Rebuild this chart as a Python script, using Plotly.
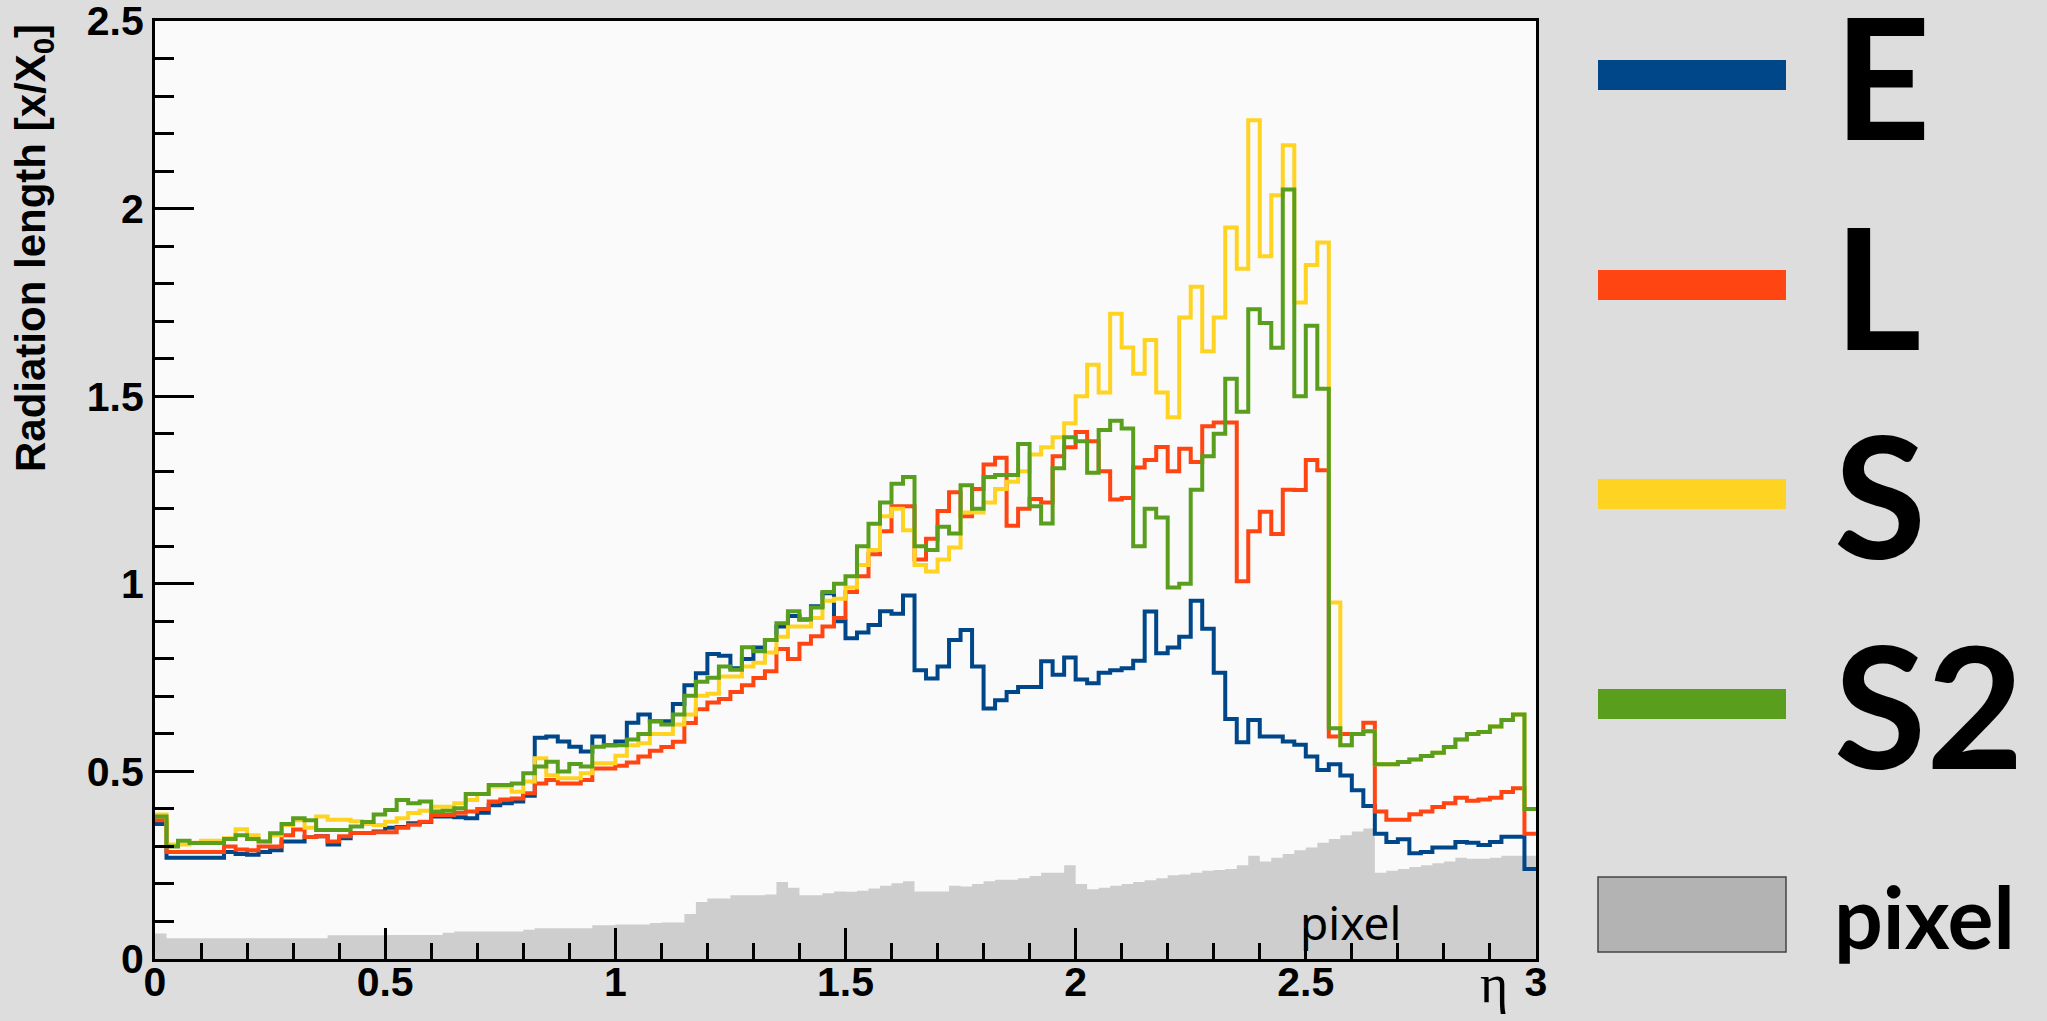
import numpy as np
import plotly.graph_objects as go

# ---------------- data (radiation length per eta bin, bin width 0.025) ----------------
BIN_WIDTH = 0.025
eta_edges = np.round(np.arange(0, 3 + BIN_WIDTH / 2, BIN_WIDTH), 4)  # 121 edges, 120 bins

x_ticks = [0, 0.5, 1, 1.5, 2, 2.5, 3]
x_labels = ["0", "0.5", "1", "1.5", "2", "2.5", "3"]
y_ticks = [0, 0.5, 1, 1.5, 2, 2.5]
y_labels = ["0", "0.5", "1", "1.5", "2", "2.5"]

E_vals = [
    0.36, 0.27, 0.27, 0.27,   0.27, 0.27, 0.285, 0.28,   0.278, 0.285, 0.29, 0.313,
    0.313, 0.325, 0.327, 0.305,   0.322, 0.336, 0.336, 0.34,   0.35, 0.352, 0.362, 0.365,
    0.38, 0.38, 0.378, 0.375,   0.39, 0.41, 0.415, 0.42,   0.435, 0.59, 0.593, 0.58,
    0.566, 0.553, 0.593, 0.57,   0.58, 0.63, 0.652, 0.634,   0.634, 0.68, 0.73, 0.762,
    0.813, 0.808, 0.775, 0.8,   0.83, 0.85, 0.886, 0.914,   0.905, 0.94, 0.975, 0.9,
    0.855, 0.87, 0.89, 0.927,   0.92, 0.969, 0.77, 0.748,   0.78, 0.85, 0.877, 0.78,
    0.668, 0.69, 0.712, 0.725,   0.725, 0.794, 0.758, 0.804,   0.745, 0.735, 0.763, 0.77,
    0.775, 0.795, 0.926, 0.815,   0.83, 0.859, 0.955, 0.88,   0.763, 0.64, 0.578, 0.637,
    0.593, 0.593, 0.58, 0.571,   0.54, 0.504, 0.519, 0.489,   0.45, 0.408, 0.334, 0.312,
    0.319, 0.282, 0.285, 0.297,   0.297, 0.312, 0.31, 0.304,   0.312, 0.326, 0.326, 0.24,
]

L_vals = [
    0.37, 0.285, 0.285, 0.285,   0.285, 0.285, 0.30, 0.292,   0.29, 0.30, 0.30, 0.33,
    0.345, 0.325, 0.327, 0.313,   0.327, 0.336, 0.336, 0.338,   0.338, 0.35, 0.358, 0.366,
    0.384, 0.384, 0.39, 0.393,   0.40, 0.42, 0.425, 0.428,   0.442, 0.468, 0.477, 0.468,
    0.468, 0.477, 0.508, 0.508,   0.515, 0.524, 0.54, 0.555,   0.565, 0.579, 0.629, 0.666,
    0.684, 0.693, 0.712, 0.73,   0.749, 0.767, 0.826, 0.80,   0.84, 0.86, 0.886, 0.909,
    0.978, 1.02, 1.079, 1.14,   1.207, 1.207, 1.065, 1.12,   1.194, 1.244, 1.18, 1.253,
    1.318, 1.336, 1.155, 1.20,   1.226, 1.217, 1.34, 1.364,   1.405, 1.38, 1.30, 1.225,
    1.229, 1.31, 1.33, 1.365,   1.30, 1.36, 1.325, 1.42,   1.43, 1.43, 1.007, 1.14,
    1.192, 1.133, 1.251, 1.25,   1.33, 1.303, 0.593, 0.60,   0.60, 0.63, 0.393, 0.371,
    0.371, 0.386, 0.393, 0.405,   0.415, 0.43, 0.422, 0.425,   0.43, 0.445, 0.455, 0.334,
]

S_vals = [
    0.385, 0.305, 0.305, 0.31,   0.315, 0.315, 0.322, 0.346,   0.33, 0.313, 0.33, 0.357,
    0.37, 0.35, 0.38, 0.371,   0.371, 0.367, 0.36, 0.357,   0.366, 0.375, 0.389, 0.395,
    0.406, 0.406, 0.415, 0.424,   0.44, 0.46, 0.46, 0.446,   0.473, 0.535, 0.49, 0.482,
    0.482, 0.495, 0.522, 0.522,   0.542, 0.57, 0.575, 0.60,   0.60, 0.625, 0.652, 0.702,
    0.707, 0.753, 0.753, 0.78,   0.79, 0.817, 0.859, 0.886,   0.886, 0.909, 0.955, 0.96,
    0.99, 1.05, 1.09, 1.18,   1.20, 1.143, 1.05, 1.033,   1.065, 1.097, 1.19, 1.19,
    1.217, 1.253, 1.272, 1.30,   1.345, 1.364, 1.391, 1.428,   1.50, 1.584, 1.51, 1.72,
    1.63, 1.56, 1.65, 1.51,   1.444, 1.71, 1.792, 1.62,   1.71, 1.95, 1.84, 2.236,
    1.873, 2.036, 2.169, 1.75,   1.85, 1.91, 0.95, 0.57,   0.60, 0.607, 0.519, 0.519,
    0.525, 0.532, 0.541, 0.55,   0.565, 0.585, 0.60, 0.605,   0.62, 0.637, 0.652, 0.40,
]

S2_vals = [
    0.38, 0.30, 0.315, 0.309,   0.309, 0.309, 0.32, 0.33,   0.32, 0.313, 0.335, 0.36,
    0.375, 0.37, 0.344, 0.344,   0.344, 0.353, 0.365, 0.385,   0.397, 0.424, 0.415, 0.42,
    0.393, 0.395, 0.402, 0.44,   0.44, 0.464, 0.464, 0.468,   0.495, 0.513, 0.526, 0.50,
    0.52, 0.513, 0.566, 0.57,   0.57, 0.585, 0.60, 0.634,   0.625, 0.652, 0.702, 0.739,
    0.75, 0.78, 0.771, 0.831,   0.82, 0.85, 0.895, 0.927,   0.905, 0.937, 0.978, 1.00,
    1.02, 1.10, 1.16, 1.217,   1.267, 1.285, 1.10, 1.09,   1.152, 1.134, 1.263, 1.20,
    1.285, 1.29, 1.29, 1.373,   1.207, 1.161, 1.308, 1.391,   1.38, 1.296, 1.41, 1.435,
    1.414, 1.10, 1.20, 1.177,   0.99, 1.00, 1.251, 1.34,   1.40, 1.547, 1.459, 1.732,
    1.695, 1.629, 2.051, 1.50,   1.688, 1.52, 0.615, 0.57,   0.60, 0.607, 0.519, 0.519,
    0.525, 0.532, 0.541, 0.55,   0.565, 0.585, 0.60, 0.605,   0.62, 0.637, 0.652, 0.40,
]

pixel_vals = [
    0.068, 0.055, 0.055, 0.055,   0.055, 0.055, 0.055, 0.055,   0.055, 0.055, 0.055, 0.055,
    0.055, 0.055, 0.055, 0.063,   0.063, 0.063, 0.063, 0.063,   0.064, 0.064, 0.064, 0.064,
    0.064, 0.07, 0.073, 0.073,   0.073, 0.073, 0.073, 0.073,   0.078, 0.082, 0.082, 0.082,
    0.082, 0.082, 0.09, 0.09,   0.092, 0.092, 0.092, 0.096,   0.097, 0.097, 0.12, 0.152,
    0.161, 0.161, 0.17, 0.17,   0.17, 0.172, 0.205, 0.19,   0.17, 0.17, 0.175, 0.18,
    0.179, 0.182, 0.188, 0.195,   0.202, 0.207, 0.18, 0.18,   0.18, 0.195, 0.193, 0.20,
    0.207, 0.211, 0.211, 0.215,   0.221, 0.23, 0.23, 0.25,   0.20, 0.186, 0.19, 0.195,
    0.20, 0.205, 0.21, 0.215,   0.223, 0.225, 0.23, 0.235,   0.237, 0.24, 0.25, 0.275,
    0.26, 0.27, 0.28, 0.29,   0.297, 0.31, 0.32, 0.33,   0.34, 0.348, 0.23, 0.235,
    0.24, 0.245, 0.25, 0.255,   0.26, 0.27, 0.267, 0.267,   0.27, 0.275, 0.275, 0.275,
]

series_names = ["E", "L", "S", "S2"]
series_vals = [E_vals, L_vals, S_vals, S2_vals]
series_colors = ["#00478a", "#ff4512", "#ffd322", "#5a9e1d"]
pixel_fill = "#cecece"
pixel_legend_fill = "#b3b3b3"

# ---------------- geometry helpers (figure pixels -> paper coords) ----------------
W, H = 2047, 1021
PL, PR, PT, PB = 155, 1536, 21, 959   # plot-area frame in pixels


def px(xp):
    return (xp - PL) / (PR - PL)


def py(yp):
    return (PB - yp) / (PB - PT)


def step(vals):
    return list(eta_edges), list(vals) + [vals[-1]]


fig = go.Figure()

xs, ys = step(pixel_vals)
fig.add_trace(go.Scatter(x=xs, y=ys, mode="lines", name="pixel",
                         line=dict(width=0, shape="hv", color=pixel_fill),
                         fill="tozeroy", fillcolor=pixel_fill, hoverinfo="skip"))

for name, vals, col in zip(series_names, series_vals, series_colors):
    xs, ys = step(vals)
    fig.add_trace(go.Scatter(x=xs, y=ys, mode="lines", name=name,
                             line=dict(width=4, shape="hv", color=col)))

tickfont = dict(family="Liberation Sans", size=41, color="black", weight="bold")

fig.update_layout(
    width=W, height=H, autosize=False,
    margin=dict(l=PL, r=W - PR, t=PT, b=H - PB, pad=0),
    paper_bgcolor="#dddddd", plot_bgcolor="#fafafa",
    showlegend=False,
    xaxis=dict(range=[0, 3.0001], tickmode="array", tickvals=x_ticks, ticktext=x_labels,
               ticks="inside", ticklen=31, tickwidth=2.5, tickcolor="black",
               showline=True, linecolor="black", linewidth=3, mirror=True,
               showgrid=False, zeroline=False, tickfont=tickfont,
               ticklabeloverflow="allow", automargin=False, ticklabelstandoff=-15,
               minor=dict(tickmode="linear", tick0=0, dtick=0.1, ticks="inside", ticklen=16,
                          tickwidth=2.5, tickcolor="black", showgrid=False)),
    yaxis=dict(range=[0, 2.5003], tickmode="array", tickvals=y_ticks, ticktext=y_labels,
               ticks="inside", ticklen=39, tickwidth=2.5, tickcolor="black",
               showline=True, linecolor="black", linewidth=3, mirror=True,
               showgrid=False, zeroline=False, tickfont=tickfont,
               ticklabeloverflow="allow", automargin=False,
               minor=dict(tickmode="linear", tick0=0, dtick=0.1, ticks="inside", ticklen=19,
                          tickwidth=2.5, tickcolor="black", showgrid=False)),
)

# ---------------- custom legend ----------------
legend_centers = [75, 285, 494, 704]
bar_x0, bar_x1 = 1598, 1786
for yc, col in zip(legend_centers, series_colors):
    fig.add_shape(type="rect", xref="paper", yref="paper",
                  x0=px(bar_x0), x1=px(bar_x1), y0=py(yc + 15), y1=py(yc - 15),
                  fillcolor=col, line=dict(width=0), layer="above")
fig.add_shape(type="rect", xref="paper", yref="paper",
              x0=px(bar_x0), x1=px(bar_x1), y0=py(952), y1=py(877),
              fillcolor=pixel_legend_fill, line=dict(width=1.5, color="#444444"),
              layer="above")

big_font = dict(family="Lato", size=168, color="black", weight="bold")
for yc, name in zip(legend_centers, series_names):
    fig.add_annotation(text=name, xref="paper", yref="paper", x=px(1832), y=py(yc),
                       xanchor="left", yanchor="middle", showarrow=False, font=big_font)
fig.add_annotation(text="pixel", xref="paper", yref="paper", x=px(1832), y=py(915),
                   xanchor="left", yanchor="middle", showarrow=False,
                   font=dict(family="Lato", size=86, color="black", weight="bold"))

# in-plot label
fig.add_annotation(text="pixel", xref="paper", yref="paper", x=px(1350), y=py(922),
                   xanchor="center", yanchor="middle", showarrow=False,
                   font=dict(family="Noto Sans", size=46, color="black"))

# axis titles
fig.add_annotation(text="Radiation length [x/X<sub>0</sub>]", xref="paper", yref="paper",
                   x=px(34), y=py(22), xanchor="center", yanchor="top", textangle=-90,
                   showarrow=False,
                   font=dict(family="Liberation Sans", size=42, color="black", weight="bold"))
fig.add_annotation(text="η", xref="paper", yref="paper", x=px(1494), y=py(984),
                   xanchor="center", yanchor="middle", showarrow=False,
                   font=dict(family="Liberation Serif", size=54, color="black"))

post = ("document.body.style.margin='0';document.body.style.overflow='hidden';"
        "document.documentElement.style.overflow='hidden';")
fig.write_html("out.html", post_script=post, config={"displayModeBar": False})
